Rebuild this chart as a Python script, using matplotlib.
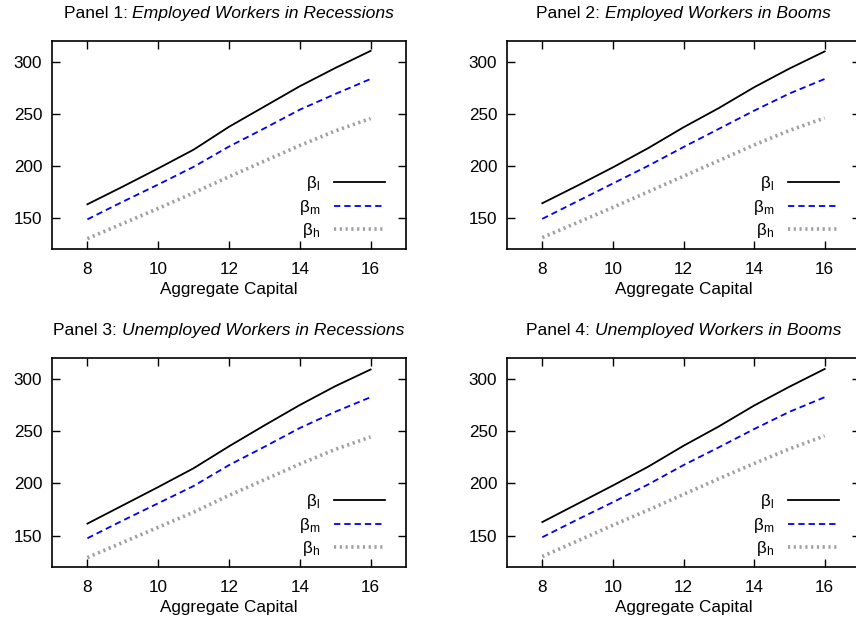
import numpy as np
import matplotlib
matplotlib.use("Agg")
import matplotlib.pyplot as plt

plt.rcParams['font.family'] = ['Liberation Sans', 'DejaVu Sans']
plt.rcParams['mathtext.fontset'] = 'custom'
plt.rcParams['mathtext.rm'] = 'Liberation Sans'
plt.rcParams['mathtext.it'] = 'Liberation Sans:italic'

capital = [8, 9, 10, 11, 12, 13, 14, 15, 16]

titles = ["Employed Workers in Recessions", "Employed Workers in Booms",
          "Unemployed Workers in Recessions", "Unemployed Workers in Booms"]

beta_l = [
    [163, 180, 197.5, 215.5, 237.5, 257, 276.5, 294, 310.5],
    [164, 181, 198.5, 217, 237, 255.5, 275.5, 293.5, 310],
    [161.5, 179, 196.5, 214.5, 235.5, 255.5, 275, 293, 309],
    [163, 180.5, 198, 216, 236, 254.5, 274.5, 292.5, 309.5],
]
beta_m = [
    [148.5, 165.5, 182, 199, 218.5, 236, 254, 269, 283.5],
    [149, 166, 183, 200, 218, 235.5, 253, 269.5, 283.5],
    [147.5, 164.5, 181, 197.5, 217.5, 235, 253, 268.5, 282.5],
    [148.5, 165.5, 182, 199, 217.5, 234.5, 252, 268.5, 282.5],
]
beta_h = [
    [130, 144.5, 159, 174, 189.5, 204.5, 219.5, 233.5, 245.5],
    [131, 145.5, 160, 175, 190, 205, 220, 234, 246],
    [129, 143.5, 158, 172.5, 188.5, 203.5, 218.5, 232.5, 244.5],
    [130, 145, 160, 174.5, 189.5, 204.5, 219, 233, 245.5],
]

FS = 12.3

fig = plt.figure(figsize=(8.56, 6.29), dpi=100)
W, H = 856.0, 629.0
# left, top, right, bottom in pixels
boxes = [(52, 41, 406, 249), (507, 41, 860, 249),
         (52, 358, 406, 567), (507, 358, 860, 567)]

axes = []
for i, (l, t, r, b) in enumerate(boxes):
    ax = fig.add_axes([l / W, 1 - b / H, (r - l) / W, (b - t) / H])
    ax.plot(capital, beta_l[i], color='black', lw=1.3, label='β$_\\mathrm{l}$')
    ax.plot(capital, beta_m[i], color='#0000ee', lw=1.3, ls=(0, (3.5, 2.2)),
            label='β$_\\mathrm{m}$')
    ax.plot(capital, beta_h[i], color='#a0a0a0', lw=2.6, ls=(0, (0.6, 1.0)),
            label='β$_\\mathrm{h}$')
    ax.set_xlim(7, 17)
    ax.set_ylim(120, 320)
    ax.set_xticks([8, 10, 12, 14, 16])
    ax.set_yticks([150, 200, 250, 300])
    ax.tick_params(direction='in', top=True, right=True, length=6, width=1,
                   labelsize=FS)
    ax.tick_params(axis='x', pad=9)
    ax.tick_params(axis='y', pad=7)
    for s in ax.spines.values():
        s.set_linewidth(1.2)
    ax.set_xlabel("Aggregate Capital", fontsize=FS, labelpad=4)
    ax.legend(loc='lower right', frameon=False, markerfirst=False,
              handlelength=3.0, fontsize=FS, labelspacing=0.28,
              handletextpad=0.8, borderaxespad=0,
              bbox_to_anchor=(0.96, 0.009))
    axes.append(ax)

fig.canvas.draw()
renderer = fig.canvas.get_renderer()
for i, ax in enumerate(axes):
    l, t, r, b = boxes[i]
    cx = (l + r) / 2.0
    t1 = fig.text(0, 0, "Panel %d: " % (i + 1), fontsize=12.6)
    t2 = fig.text(0, 0, titles[i], fontsize=12.6, style='italic')
    w1 = t1.get_window_extent(renderer).width
    w2 = t2.get_window_extent(renderer).width
    x0 = cx - (w1 + w2) / 2.0
    yf = 1 - (t - 27.5) / H
    t1.set_position((x0 / W, yf))
    t1.set_va('center')
    t2.set_position(((x0 + w1) / W, yf))
    t2.set_va('center')

fig.savefig("out.png", dpi=100)
